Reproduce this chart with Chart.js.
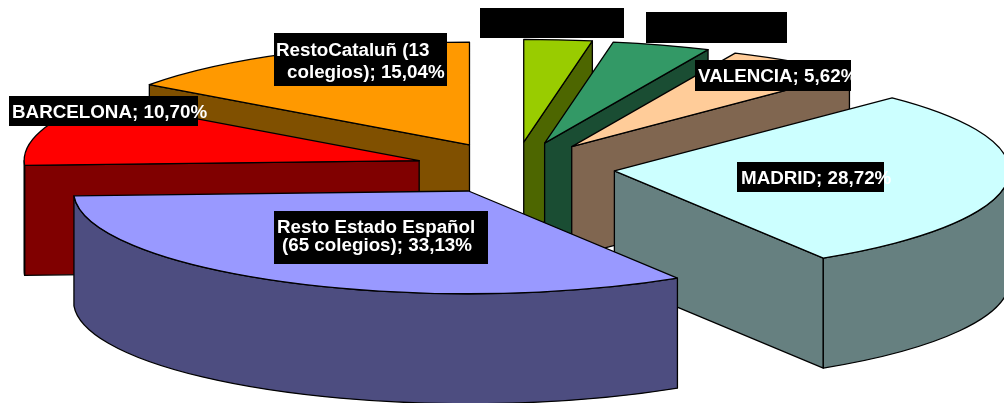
<!DOCTYPE html>
<html>
<head>
<meta charset="utf-8">
<style>
  html, body { margin: 0; padding: 0; background: #fff; }
  #wrap { width: 1004px; height: 403px; }
</style>
<script src="https://cdn.jsdelivr.net/npm/chart.js@4"></script>
</head>
<body>
<div id="wrap"><canvas id="chart"></canvas></div>
<script>
// two slices have their labels blacked out in the original
const categories = ['', '', 'VALENCIA', 'MADRID', 'Resto Estado Español (65 colegios)', 'BARCELONA', 'RestoCataluñ (13 colegios)'];
const shares = [2.78, 4.01, 5.62, 28.72, 33.13, 10.70, 15.04];
const topColors = ['#99cc00', '#339966', '#ffcc99', '#ccffff', '#9999ff', '#ff0000', '#ff9900'];
const wallColors = ['#4d6600', '#1a4d33', '#806650', '#668080', '#4d4d80', '#800000', '#805000'];

// back to front, blue sits over the Madrid wall
const drawOrder = [0, 1, 2, 6, 5, 3, 4];

const TILT = 0.26;
const DEPTH = 110;
const EXPLODE = 100;
const LINE_WIDTH = 1.3;
const LABEL_FONT = 'bold 18.8px "Liberation Sans", Arial, sans-serif';

const labelBoxes = [
  { box: [480, 8, 144, 30], lines: [] },
  { box: [646, 12, 141, 31], lines: [] },
  { box: [695, 60, 156, 31], lines: [['VALENCIA; 5,62%', 698, 82]] },
  { box: [737, 162, 147, 30], lines: [['MADRID; 28,72%', 741, 184]] },
  { box: [9, 96, 189, 30], lines: [['BARCELONA; 10,70%', 12, 118]] },
  { box: [274, 33, 173, 53], lines: [['RestoCataluñ (13', 276, 56], ['colegios); 15,04%', 287, 78]] },
  { box: [274, 211, 214, 53], lines: [['Resto Estado Español', 277, 233], ['(65 colegios); 33,13%', 282, 251]] },
];

/**
 * Draw the extruded side faces of one slice
 * @param {CanvasRenderingContext2D} ctx
 * @param {number} cx - Slice tip x
 * @param {number} cy - Slice tip y
 * @param {Object} arc - Arc element of the pie
 * @param {string} color - Wall color
 */
const drawWalls = (ctx, cx, cy, arc, color) => {
  const { startAngle, endAngle, outerRadius } = arc;
  const rx = outerRadius;
  const ry = outerRadius * TILT;
  ctx.fillStyle = color;

  const radialWall = (angle) => {
    const ex = cx + Math.cos(angle) * rx;
    const ey = cy + Math.sin(angle) * ry;
    ctx.beginPath();
    ctx.moveTo(cx, cy);
    ctx.lineTo(ex, ey);
    ctx.lineTo(ex, ey + DEPTH);
    ctx.lineTo(cx, cy + DEPTH);
    ctx.closePath();
    ctx.fill();
    ctx.stroke();
  };

  if (Math.cos(startAngle) < 0) {
    radialWall(startAngle);
  }
  if (Math.cos(endAngle) > 0) {
    radialWall(endAngle);
  }

  // only the front half of the rim can be seen
  const from = Math.max(startAngle, 0);
  const to = Math.min(endAngle, Math.PI);
  if (to > from) {
    ctx.beginPath();
    ctx.ellipse(cx, cy, rx, ry, 0, from, to);
    ctx.ellipse(cx, cy + DEPTH, rx, ry, 0, to, from, true);
    ctx.closePath();
    ctx.fill();
    ctx.stroke();
  }
};

const tiltedPie = {
  id: 'tiltedPie',
  beforeDatasetsDraw(chart) {
    const { ctx } = chart;
    const arcs = chart.getDatasetMeta(0).data;
    ctx.save();
    ctx.strokeStyle = '#000';
    ctx.lineWidth = LINE_WIDTH;
    ctx.lineJoin = 'round';
    for (const index of drawOrder) {
      const arc = arcs[index];
      const mid = (arc.startAngle + arc.endAngle) / 2;
      const cx = arc.x + Math.cos(mid) * EXPLODE;
      const cy = arc.y + Math.sin(mid) * EXPLODE * TILT;

      drawWalls(ctx, cx, cy, arc, wallColors[index]);

      // the face itself is the library's arc, squashed
      ctx.save();
      ctx.translate(cx, cy);
      ctx.scale(1, TILT);
      ctx.translate(-arc.x, -arc.y);
      arc.draw(ctx);
      ctx.restore();

      ctx.beginPath();
      ctx.moveTo(cx, cy);
      ctx.ellipse(cx, cy, arc.outerRadius, arc.outerRadius * TILT, 0, arc.startAngle, arc.endAngle);
      ctx.closePath();
      ctx.stroke();
    }
    ctx.restore();
    return false;
  },
  afterDraw(chart) {
    const { ctx } = chart;
    ctx.save();
    ctx.font = LABEL_FONT;
    ctx.textBaseline = 'alphabetic';
    for (const label of labelBoxes) {
      ctx.fillStyle = '#000';
      ctx.fillRect(...label.box);
      ctx.fillStyle = '#fff';
      for (const [text, x, y] of label.lines) {
        ctx.fillText(text, x, y);
      }
    }
    ctx.restore();
  },
};

new Chart(document.getElementById('chart'), {
  type: 'pie',
  data: {
    labels: categories,
    datasets: [{
      data: shares,
      backgroundColor: topColors,
      borderWidth: 0,
    }],
  },
  options: {
    responsive: true,
    maintainAspectRatio: false,
    animation: false,
    radius: 395,
    layout: { padding: { left: 26, bottom: 67 } },
    plugins: {
      legend: { display: false },
      tooltip: { enabled: false },
    },
  },
  plugins: [tiltedPie],
});
</script>
</body>
</html>
